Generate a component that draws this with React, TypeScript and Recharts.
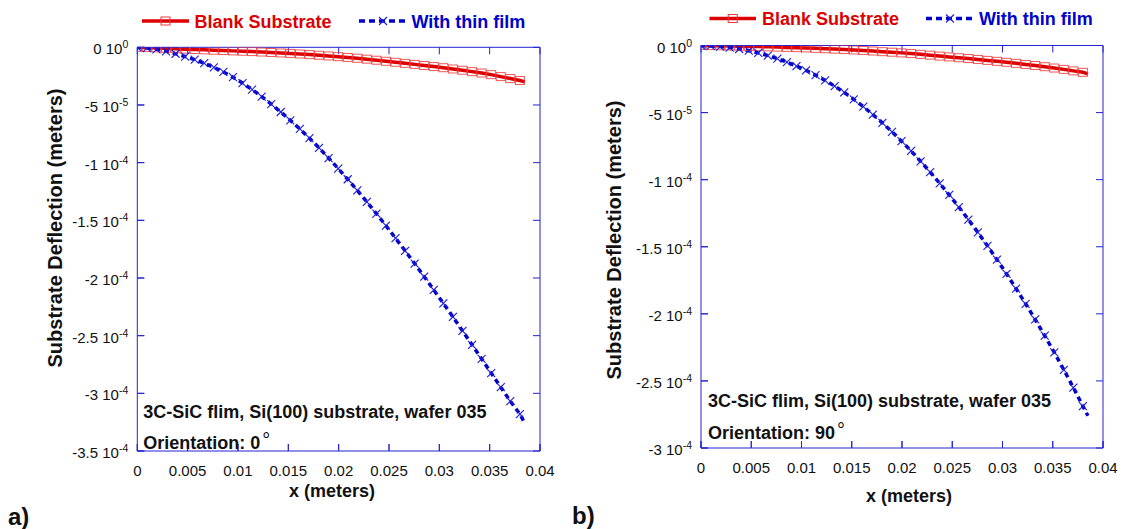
import React from 'react';
import { LineChart, Line, XAxis, YAxis, Legend, ReferenceLine } from 'recharts';

const FONT = "'Liberation Sans', Arial, Helvetica, sans-serif";
const AXIS_BLUE = '#2323d3';
const RED = '#dd0000';
const RED_MARK = '#ee3a3a';
const BLUE = '#0000cc';
const BLUE_MARK = '#1a1ad8';

// x positions (meters); last entry is the end of the curves (no marker)
const xValues = [
  0, 0.00095, 0.0019, 0.00285, 0.0038, 0.00475, 0.0057, 0.00665, 0.0076, 0.00855,
  0.0095, 0.01045, 0.0114, 0.01235, 0.0133, 0.01425, 0.0152, 0.01615, 0.0171, 0.01805,
  0.019, 0.01995, 0.0209, 0.02185, 0.0228, 0.02375, 0.0247, 0.02565, 0.0266, 0.02755,
  0.0285, 0.02945, 0.0304, 0.03135, 0.0323, 0.03325, 0.0342, 0.03515, 0.0361, 0.03705,
  0.038, 0.0385,
];

// Panel a) orientation 0 deg
const blankA = [
  0, -0.02e-5, -0.05e-5, -0.08e-5, -0.12e-5, -0.16e-5, -0.19e-5, -0.22e-5, -0.25e-5, -0.28e-5,
  -0.31e-5, -0.34e-5, -0.37e-5, -0.41e-5, -0.45e-5, -0.49e-5, -0.53e-5, -0.58e-5, -0.63e-5, -0.69e-5,
  -0.75e-5, -0.81e-5, -0.88e-5, -0.95e-5, -1.03e-5, -1.12e-5, -1.21e-5, -1.3e-5, -1.39e-5, -1.48e-5,
  -1.58e-5, -1.67e-5, -1.77e-5, -1.88e-5, -1.99e-5, -2.11e-5, -2.23e-5, -2.37e-5, -2.54e-5, -2.71e-5,
  -2.88e-5, -3.0e-5,
];
const filmA = [
  0, -0.06e-5, -0.18e-5, -0.35e-5, -0.56e-5, -0.8e-5, -1.07e-5, -1.38e-5, -1.74e-5, -2.14e-5,
  -2.59e-5, -3.1e-5, -3.66e-5, -4.27e-5, -4.92e-5, -5.61e-5, -6.33e-5, -7.08e-5, -7.88e-5, -8.72e-5,
  -9.6e-5, -10.51e-5, -11.44e-5, -12.4e-5, -13.4e-5, -14.42e-5, -15.47e-5, -16.55e-5, -17.64e-5, -18.75e-5,
  -19.89e-5, -21.04e-5, -22.2e-5, -23.38e-5, -24.58e-5, -25.79e-5, -27.01e-5, -28.24e-5, -29.47e-5, -30.68e-5,
  -31.8e-5, -32.6e-5,
];

// Panel b) orientation 90 deg
const blankB = [
  0, -0.01e-5, -0.02e-5, -0.04e-5, -0.05e-5, -0.07e-5, -0.08e-5, -0.1e-5, -0.12e-5, -0.14e-5,
  -0.16e-5, -0.18e-5, -0.21e-5, -0.24e-5, -0.27e-5, -0.3e-5, -0.33e-5, -0.37e-5, -0.41e-5, -0.46e-5,
  -0.5e-5, -0.55e-5, -0.6e-5, -0.66e-5, -0.72e-5, -0.79e-5, -0.85e-5, -0.91e-5, -0.97e-5, -1.04e-5,
  -1.11e-5, -1.18e-5, -1.25e-5, -1.33e-5, -1.41e-5, -1.49e-5, -1.58e-5, -1.68e-5, -1.78e-5, -1.89e-5,
  -2.0e-5, -2.11e-5,
];
const filmB = [
  0, -0.03e-5, -0.08e-5, -0.16e-5, -0.26e-5, -0.39e-5, -0.55e-5, -0.75e-5, -0.98e-5, -1.24e-5,
  -1.53e-5, -1.85e-5, -2.21e-5, -2.6e-5, -3.03e-5, -3.5e-5, -4.01e-5, -4.56e-5, -5.15e-5, -5.77e-5,
  -6.43e-5, -7.13e-5, -7.86e-5, -8.63e-5, -9.43e-5, -10.27e-5, -11.14e-5, -12.04e-5, -12.97e-5, -13.93e-5,
  -14.93e-5, -15.96e-5, -17.02e-5, -18.12e-5, -19.25e-5, -20.42e-5, -21.63e-5, -22.88e-5, -24.17e-5, -25.5e-5,
  -26.88e-5, -27.6e-5,
];

const seriesNames = ['Blank Substrate', 'With thin film'];

const xTicks = [0, 0.005, 0.01, 0.015, 0.02, 0.025, 0.03, 0.035, 0.04];
const xTickLabels = ['0', '0.005', '0.01', '0.015', '0.02', '0.025', '0.03', '0.035', '0.04'];

const yTicksA = [0, -5e-5, -1e-4, -1.5e-4, -2e-4, -2.5e-4, -3e-4, -3.5e-4];
const yMantA = ['0', '-5', '-1', '-1.5', '-2', '-2.5', '-3', '-3.5'];
const yExpA = ['0', '-5', '-4', '-4', '-4', '-4', '-4', '-4'];

const yTicksB = [0, -5e-5, -1e-4, -1.5e-4, -2e-4, -2.5e-4, -3e-4];
const yMantB = ['0', '-5', '-1', '-1.5', '-2', '-2.5', '-3'];
const yExpB = ['0', '-5', '-4', '-4', '-4', '-4', '-4'];

const yAxisTitle = 'Substrate Deflection (meters)';
const xAxisTitle = 'x (meters)';
const noteLine1 = '3C-SiC flim, Si(100) substrate, wafer 035';
const orientA = '0';
const orientB = '90';

const lastIndex = xValues.length - 1;
const TICK = 7;

const buildData = (blank: number[], film: number[]) =>
  xValues.map((x, i) => ({ x, blank: blank[i], film: film[i] }));

const findIdx = (arr: number[], v: number) => arr.findIndex((t) => Math.abs(t - v) < 1e-12);

const squareDot = (p: any) => {
  if (p.index === lastIndex || p.cx == null || p.cy == null) return <g key={`sq-${p.index}`} />;
  return (
    <rect
      key={`sq-${p.index}`}
      x={p.cx - 4.5}
      y={p.cy - 4}
      width={9}
      height={8}
      fill="none"
      stroke={RED_MARK}
      strokeOpacity={0.85}
      strokeWidth={1}
    />
  );
};

const crossDot = (p: any) => {
  if (p.index === lastIndex || p.cx == null || p.cy == null) return <g key={`cx-${p.index}`} />;
  const s = 4;
  return (
    <g key={`cx-${p.index}`} stroke={BLUE_MARK} strokeWidth={1.1}>
      <line x1={p.cx - s} y1={p.cy - s} x2={p.cx + s} y2={p.cy + s} />
      <line x1={p.cx - s} y1={p.cy + s} x2={p.cx + s} y2={p.cy - s} />
    </g>
  );
};

// inward tick stubs at both ends of a vertical reference line (x ticks)
const vStubs = (p: any) => {
  const x = p.x1;
  const top = Math.min(p.y1, p.y2);
  const bot = Math.max(p.y1, p.y2);
  return (
    <g stroke={AXIS_BLUE} strokeWidth={1}>
      <line x1={x} x2={x} y1={top} y2={top + TICK} />
      <line x1={x} x2={x} y1={bot} y2={bot - TICK} />
    </g>
  );
};

// inward tick stubs at both ends of a horizontal reference line (y ticks)
const hStubs = (p: any) => {
  const y = p.y1;
  const l = Math.min(p.x1, p.x2);
  const r = Math.max(p.x1, p.x2);
  return (
    <g stroke={AXIS_BLUE} strokeWidth={1}>
      <line x1={l} x2={l + TICK} y1={y} y2={y} />
      <line x1={r} x2={r - TICK} y1={y} y2={y} />
    </g>
  );
};

// bottom axis: tickSize = -TICK, tickMargin 0 -> label y = axis - TICK
const bottomTick = (p: any) => {
  const i = findIdx(xTicks, p.payload.value);
  return (
    <text
      key={`xb-${i}`}
      x={p.x}
      y={p.y + TICK + 25}
      textAnchor="middle"
      fontFamily={FONT}
      fontSize={15}
      fill="#111"
    >
      {xTickLabels[i]}
    </text>
  );
};

// left axis: tickSize = -TICK, tickMargin 0 -> label x = axis + TICK
const makeLeftTick = (ticks: number[], mant: string[], exps: string[]) => (p: any) => {
  const i = findIdx(ticks, p.payload.value);
  return (
    <text
      key={`yl-${i}`}
      x={p.x - TICK - 9}
      y={p.y + 7}
      textAnchor="end"
      fontFamily={FONT}
      fontSize={15}
      fill="#111"
    >
      {mant[i]} 10<tspan dy={-6} fontSize={10.5}>{exps[i]}</tspan>
    </text>
  );
};

type LegendPos = { x1: number; x2: number; tx: number; y: number }[];

const makeLegend = (width: number, pos: LegendPos) => (props: any) => {
  const payload = props.payload || [];
  return (
    <svg width={width} height={40} style={{ overflow: 'visible', display: 'block' }}>
      {payload.map((item: any, i: number) => {
        const q = pos[i];
        if (!q) return null;
        const mid = (q.x1 + q.x2) / 2;
        const isRed = i === 0;
        return (
          <g key={`lg-${i}`}>
            {isRed ? (
              <>
                <line x1={q.x1} x2={q.x2} y1={q.y} y2={q.y} stroke={RED} strokeWidth={3.5} />
                <rect x={mid - 4.5} y={q.y - 4} width={9} height={8} fill="none" stroke={RED_MARK} strokeWidth={1} />
              </>
            ) : (
              <>
                <line x1={q.x1} x2={q.x2} y1={q.y} y2={q.y} stroke={BLUE} strokeWidth={3.5} strokeDasharray="6 4" />
                <g stroke={BLUE_MARK} strokeWidth={1.1}>
                  <line x1={mid - 4} y1={q.y - 4} x2={mid + 4} y2={q.y + 4} />
                  <line x1={mid - 4} y1={q.y + 4} x2={mid + 4} y2={q.y - 4} />
                </g>
              </>
            )}
            <text
              x={q.tx}
              y={q.y + 6.5}
              fontFamily={FONT}
              fontWeight="bold"
              fontSize={18}
              fill={isRed ? RED : BLUE}
            >
              {item.value}
            </text>
          </g>
        );
      })}
    </svg>
  );
};

type PanelProps = {
  left: number;
  width: number;
  margin: { top: number; right: number; bottom: number; left: number };
  yAxisWidth: number;
  data: { x: number; blank: number; film: number }[];
  yDomain: [number, number];
  yTicks: number[];
  yMant: string[];
  yExp: string[];
  legendPos: LegendPos;
};

const axisLineStyle = { stroke: AXIS_BLUE, strokeWidth: 1 };
const tickLineStyle = { stroke: AXIS_BLUE, strokeWidth: 1 };

function Panel(props: PanelProps) {
  const { left, width, margin, yAxisWidth, data, yDomain, yTicks, yMant, yExp, legendPos } = props;
  return (
    <div style={{ position: 'absolute', left, top: 0, width, height: 529 }}>
      <LineChart width={width} height={529} data={data} margin={margin}>
        <XAxis
          dataKey="x"
          type="number"
          domain={[0, 0.04]}
          ticks={xTicks}
          interval={0}
          allowDataOverflow
          height={30}
          stroke={AXIS_BLUE}
          tickSize={-TICK}
          tickMargin={0}
          tickLine={tickLineStyle}
          axisLine={axisLineStyle}
          tick={bottomTick}
        />
        <XAxis
          xAxisId="top"
          orientation="top"
          dataKey="x"
          type="number"
          domain={[0, 0.04]}
          ticks={xTicks}
          interval={0}
          allowDataOverflow
          height={1}
          stroke={AXIS_BLUE}
          tickSize={-TICK}
          tickMargin={0}
          tickLine={tickLineStyle}
          axisLine={axisLineStyle}
          tick={false}
        />
        <YAxis
          type="number"
          domain={yDomain}
          ticks={yTicks}
          interval={0}
          allowDataOverflow
          width={yAxisWidth}
          stroke={AXIS_BLUE}
          tickSize={-TICK}
          tickMargin={0}
          tickLine={tickLineStyle}
          axisLine={axisLineStyle}
          tick={makeLeftTick(yTicks, yMant, yExp)}
        />
        <YAxis
          yAxisId="right"
          orientation="right"
          type="number"
          domain={yDomain}
          ticks={yTicks}
          interval={0}
          allowDataOverflow
          width={1}
          stroke={AXIS_BLUE}
          tickSize={-TICK}
          tickMargin={0}
          tickLine={tickLineStyle}
          axisLine={axisLineStyle}
          tick={false}
        />
        {xTicks.map((t) => (
          <ReferenceLine key={`rx-${t}`} x={t} ifOverflow="extendDomain" shape={vStubs} />
        ))}
        {yTicks.map((t) => (
          <ReferenceLine key={`ry-${t}`} y={t} ifOverflow="extendDomain" shape={hStubs} />
        ))}
        <Legend
          layout="horizontal"
          verticalAlign="middle"
          align="center"
          wrapperStyle={{ left: 0, top: 0, width, height: 40 }}
          content={makeLegend(width, legendPos)}
        />
        <Line
          type="linear"
          dataKey="blank"
          name={seriesNames[0]}
          stroke={RED}
          strokeWidth={3.5}
          dot={squareDot}
          activeDot={false}
          isAnimationActive={false}
        />
        <Line
          type="linear"
          dataKey="film"
          name={seriesNames[1]}
          stroke={BLUE}
          strokeWidth={3.5}
          strokeDasharray="5 4"
          dot={crossDot}
          activeDot={false}
          isAnimationActive={false}
        />
      </LineChart>
    </div>
  );
}

const dataA = buildData(blankA, filmA);
const dataB = buildData(blankB, filmB);

export default function App() {
  const textBold = { fontFamily: FONT, fontWeight: 'bold' as const, fill: '#111' };
  return (
    <div style={{ position: 'absolute', left: 0, top: 0, width: 1125, height: 529, background: '#fff', overflow: 'hidden' }}>
      <Panel
        left={0}
        width={560}
        margin={{ top: 46.3, right: 19, bottom: 48, left: 0 }}
        yAxisWidth={137.3}
        data={dataA}
        yDomain={[-3.5e-4, 0]}
        yTicks={yTicksA}
        yMant={yMantA}
        yExp={yExpA}
        legendPos={[
          { x1: 142, x2: 189, tx: 194.5, y: 21 },
          { x1: 359, x2: 407, tx: 411.5, y: 21 },
        ]}
      />
      <Panel
        left={560}
        width={565}
        margin={{ top: 44.5, right: 21, bottom: 51, left: 0 }}
        yAxisWidth={141}
        data={dataB}
        yDomain={[-3e-4, 0]}
        yTicks={yTicksB}
        yMant={yMantB}
        yExp={yExpB}
        legendPos={[
          { x1: 149.5, x2: 196, tx: 202, y: 18.5 },
          { x1: 366, x2: 414, tx: 419, y: 18.5 },
        ]}
      />
      <svg
        width={1125}
        height={529}
        style={{ position: 'absolute', left: 0, top: 0, pointerEvents: 'none' }}
      >
        <text transform="translate(62,228) rotate(-90)" textAnchor="middle" fontSize={20} {...textBold}>
          {yAxisTitle}
        </text>
        <text transform="translate(621,240) rotate(-90)" textAnchor="middle" fontSize={20} {...textBold}>
          {yAxisTitle}
        </text>
        <text x={332} y={497} textAnchor="middle" fontSize={18} {...textBold}>{xAxisTitle}</text>
        <text x={909} y={502} textAnchor="middle" fontSize={18} {...textBold}>{xAxisTitle}</text>
        <text x={8} y={525} fontSize={24} {...textBold}>a)</text>
        <text x={572} y={524} fontSize={24} {...textBold}>b)</text>
        <text x={143.3} y={417.7} fontSize={18} {...textBold}>{noteLine1}</text>
        <text x={143.3} y={449} fontSize={18} {...textBold}>
          Orientation: {orientA}<tspan dx={2} dy={-2} fontWeight="normal" fontSize={20}>°</tspan>
        </text>
        <text x={708} y={406.7} fontSize={18} {...textBold}>{noteLine1}</text>
        <text x={708} y={439} fontSize={18} {...textBold}>
          Orientation: {orientB}<tspan dx={2} dy={-2} fontWeight="normal" fontSize={20}>°</tspan>
        </text>
      </svg>
    </div>
  );
}
